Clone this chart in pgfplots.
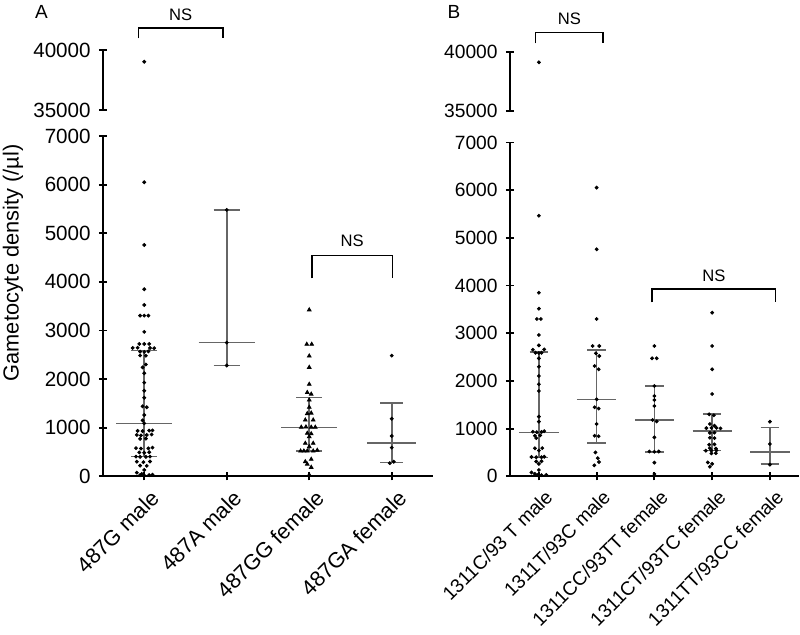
\documentclass[border=0pt]{standalone}
\usepackage{fontspec}
\setmainfont{Liberation Sans}
\usepackage{pgfplots}
\pgfplotsset{compat=1.18}
\pgfplotsset{
  base/.style={scale only axis, anchor=south west, clip=false,
    tick style={line width=0.9pt,black},
    major tick length=4pt, tick align=outside,
    tick label style={font=\fontsize{9.6}{11}\selectfont},
    /pgf/number format/assume math mode=true, /pgf/number format/1000 sep={},
    scaled y ticks=false,
    yticklabel style={inner sep=1pt, xshift=-3pt}},
  bot/.style={base, axis x line=bottom, axis y line=left, ymin=0, ymax=7000,
    ytick={0,1000,...,7000}, xtick={0,1,2,3,4},
    xticklabel style={xshift=2.5pt, yshift=-2.5pt, rotate=45, anchor=north east, inner sep=1pt},
    x axis line style={-, line width=0.9pt}, y axis line style={-, line width=0.9pt}},
  top/.style={base, axis x line=none, axis y line=left, ymin=35000, ymax=40000,
    ytick={35000,40000},
    y axis line style={-, line width=0.9pt}},
  bigA/.style={yticklabel style={font=\fontsize{10.3}{12}\selectfont}},
  dots/.style={only marks, mark=*, mark size=0.75pt, black},
  tris/.style={only marks, mark=triangle*, mark size=1.05pt, black},
  stat/.style={black!60, line width=0.8pt, no marks},
}
\begin{document}
\begin{tikzpicture}
\useasboundingbox (0,0) rectangle (400pt,317pt);
% ---------------- Panel A top
\begin{axis}[top, bigA, at={(51.5pt,262pt)}, width=165pt, height=30pt, xmin=-0.5, xmax=3.5]
\addplot[dots] coordinates {(0,39025)};
\draw[line width=0.8pt] (axis cs:-0.07,40975) |- (axis cs:0.955,41858) -- (axis cs:0.955,40975);
\node[font=\fontsize{8.3}{10}\selectfont] at (axis cs:0.44,42900) {NS};
\end{axis}
% ---------------- Panel A bottom
\begin{axis}[bot, bigA, at={(51.5pt,78.85pt)}, width=165pt, height=170.15pt, xmin=-0.5, xmax=3.5,
  xticklabel style={font=\fontsize{10.8}{13}\selectfont},
  xticklabels={487G male, 487A male, 487GG female, 487GA female}]
\addplot[dots] coordinates {
(0,6049)(0,4759)(0,3848)(0,3525)(-0.05,3305)(0,3305)(0.05,3305)(0,2970)
(-0.06,2722)(0,2722)(0.06,2722)
(-0.14,2640)(-0.08,2645)(0.07,2640)(0.12,2635)
(-0.05,2565)(0,2560)(0.05,2570)
(-0.05,2485)(0.02,2480)
(0.02,2300)(-0.02,2240)(0,2120)(0,1926)(0,1760)(0,1617)
(-0.02,1440)(0.03,1420)(0,1260)(-0.02,1150)(0,1090)
(-0.08,935)(-0.02,930)(0.06,940)(0.1,945)
(-0.09,850)(-0.04,840)(0.03,850)(0.09,860)
(-0.05,770)(0.02,775)
(-0.1,580)(-0.04,570)(0.05,575)(0.1,590)
(-0.06,490)(0,485)(0.06,495)
(-0.1,405)(-0.05,400)(0.02,400)(0.07,405)
(-0.09,300)(-0.01,290)(0.07,305)
(-0.05,220)(0.03,215)
(0,130)
(-0.09,75)(-0.03,50)
(-0.05,25)(0,20)(0.06,25)(0.1,35)
};
\addplot[dots] coordinates {(1,5480)(1,2750)(1,2280)};
\addplot[tris] coordinates {
(2,3424)(1.97,2716)(2.03,2716)(2,2475)(2,2242)(2,1893)(1.976,1724)(2.024,1690)
(2,1570)(2,1420)(1.976,1290)(2.024,1300)(1.952,1158)(2.048,1158)
(1.903,1010)(1.96,1015)(2.024,1010)(2.073,1010)(1.976,885)(2.024,875)(2,815)
(1.952,679)(2.048,679)(2,610)(1.895,520)(1.935,520)(1.976,520)(2.048,520)(2.097,535)
(2.024,350)(1.952,300)(1.976,250)(2.024,185)(2,30)
};
\addplot[dots] coordinates {(3,2482)(3,1185)(3,829)(3,589)(3.024,300)(2.976,270)};
% stats A
\addplot[stat] coordinates {(-0.34,1090)(0.34,1090)};
\addplot[stat] coordinates {(-0.16,404)(0.16,404)};
\addplot[stat] coordinates {(-0.16,2584)(0.16,2584)};
\addplot[stat] coordinates {(0,404)(0,2584)};
\addplot[stat] coordinates {(0.66,2750)(1.34,2750)};
\addplot[stat] coordinates {(0.84,2280)(1.16,2280)};
\addplot[stat] coordinates {(0.84,5480)(1.16,5480)};
\addplot[stat] coordinates {(1,2280)(1,5480)};
\addplot[stat] coordinates {(1.66,1008)(2.34,1008)};
\addplot[stat] coordinates {(1.84,520)(2.16,520)};
\addplot[stat] coordinates {(1.84,1617)(2.16,1617)};
\addplot[stat] coordinates {(2,520)(2,1617)};
\addplot[stat] coordinates {(2.7,685)(3.3,685)};
\addplot[stat] coordinates {(2.86,288)(3.14,288)};
\addplot[stat] coordinates {(2.86,1502)(3.14,1502)};
\addplot[stat] coordinates {(3,288)(3,1502)};
\draw[line width=0.8pt] (axis cs:2.03,4074) |- (axis cs:3.01,4539) -- (axis cs:3.01,4074);
\node[font=\fontsize{8.3}{10}\selectfont] at (axis cs:2.52,4840) {NS};
\end{axis}
% ---------------- Panel B top
\begin{axis}[top, at={(255pt,261.5pt)}, width=144.4pt, height=29.65pt, xmin=-0.5, xmax=4.5]
\addplot[dots] coordinates {(0,39106)};
\draw[line width=0.8pt] (axis cs:-0.06,40708) |- (axis cs:1.11,41636) -- (axis cs:1.11,40708);
\node[font=\fontsize{8.3}{10}\selectfont] at (axis cs:0.53,42780) {NS};
\end{axis}
% ---------------- Panel B bottom
\begin{axis}[bot, at={(255pt,78.85pt)}, width=144.4pt, height=166.95pt, xmin=-0.5, xmax=4.5,
  xticklabels={1311C/93 T male, 1311T/93C male, 1311CC/93TT female, 1311CT/93TC female, 1311TT/93CC female}]
\addplot[dots] coordinates {
(0,5463)(0,3849)(0,3514)(-0.035,3298)(0.035,3298)(0,2962)(0,2746)(-0.104,2654)(0.092,2660)
(-0.058,2590)(0,2585)(0.046,2590)(0,2473)(0,2298)(0,2103)(0,1930)(0,1788)(0,1250)(0,1145)
(-0.104,935)(-0.035,925)(0.046,930)(0.092,945)(-0.069,850)(0.023,860)(-0.046,800)
(-0.069,587)(0.058,590)(0,540)(-0.127,405)(-0.046,400)(0.046,400)(0.092,410)
(-0.046,310)(0.046,315)(0,260)(0,132)(-0.127,80)(-0.069,50)(-0.023,25)(0.046,25)(0.127,30)
};
\addplot[dots] coordinates {
(1,6051)(1,4759)(1,3298)(0.931,2732)(1.046,2732)(0.988,2578)(1.046,2522)(0.965,2312)
(1.035,2243)(1,1614)(0.965,1447)(1.035,1420)(1,1096)(0.965,851)(1.035,840)
(0.98,500)(1.02,380)(1.04,300)(0.96,230)
};
\addplot[dots] coordinates {
(2,2732)(1.96,2474)(2.04,2474)(2,1893)(2,1683)(2,1600)(2,1474)(1.97,1180)(2.04,1150)
(2,817)(1.913,520)(2,515)(2.075,520)(2,286)(2,48)
};
\addplot[dots] coordinates {
(3,3430)(3,2732)(3,2243)(3,1725)(2.948,1300)(3.03,1280)(2.96,1096)(3.04,1060)
(2.9,1010)(2.988,1015)(3.075,1015)(3.145,1005)(2.96,910)(3.04,915)(2.96,808)(3.04,800)
(2.948,663)(3.04,670)(2.96,590)(3.064,580)(2.89,537)(2.988,537)(3.075,545)
(2.988,480)(3.064,485)(2.925,290)(3,260)(2.96,200)
};
\addplot[dots] coordinates {(4,1145)(4,677)(4,245)};
% stats B
\addplot[stat] coordinates {(-0.34,922)(0.34,922)};
\addplot[stat] coordinates {(-0.16,398)(0.16,398)};
\addplot[stat] coordinates {(-0.16,2606)(0.16,2606)};
\addplot[stat] coordinates {(0,398)(0,2606)};
\addplot[stat] coordinates {(0.66,1614)(1.34,1614)};
\addplot[stat] coordinates {(0.84,692)(1.16,692)};
\addplot[stat] coordinates {(0.84,2648)(1.16,2648)};
\addplot[stat] coordinates {(1,692)(1,2648)};
\addplot[stat] coordinates {(1.66,1180)(2.34,1180)};
\addplot[stat] coordinates {(1.84,510)(2.16,510)};
\addplot[stat] coordinates {(1.84,1893)(2.16,1893)};
\addplot[stat] coordinates {(2,510)(2,1893)};
\addplot[stat] coordinates {(2.66,950)(3.34,950)};
\addplot[stat] coordinates {(2.84,537)(3.16,537)};
\addplot[stat] coordinates {(2.84,1300)(3.16,1300)};
\addplot[stat] coordinates {(3,537)(3,1300)};
\addplot[stat] coordinates {(3.66,510)(4.34,510)};
\addplot[stat] coordinates {(3.84,258)(4.16,258)};
\addplot[stat] coordinates {(3.84,1027)(4.16,1027)};
\addplot[stat] coordinates {(4,258)(4,1027)};
\draw[line width=0.8pt] (axis cs:1.96,3648) |- (axis cs:4.10,3927) -- (axis cs:4.10,3648);
\node[font=\fontsize{8.3}{10}\selectfont] at (axis cs:3.03,4210) {NS};
\end{axis}
% labels
\node[font=\fontsize{10.9}{13}\selectfont, rotate=90] at (6.5pt,185.5pt) {Gametocyte density (/µl)};
\node[font=\fontsize{9.5}{11}\selectfont] at (20.75pt,311.1pt) {A};
\node[font=\fontsize{9.5}{11}\selectfont] at (227pt,311pt) {B};
\end{tikzpicture}
\end{document}
